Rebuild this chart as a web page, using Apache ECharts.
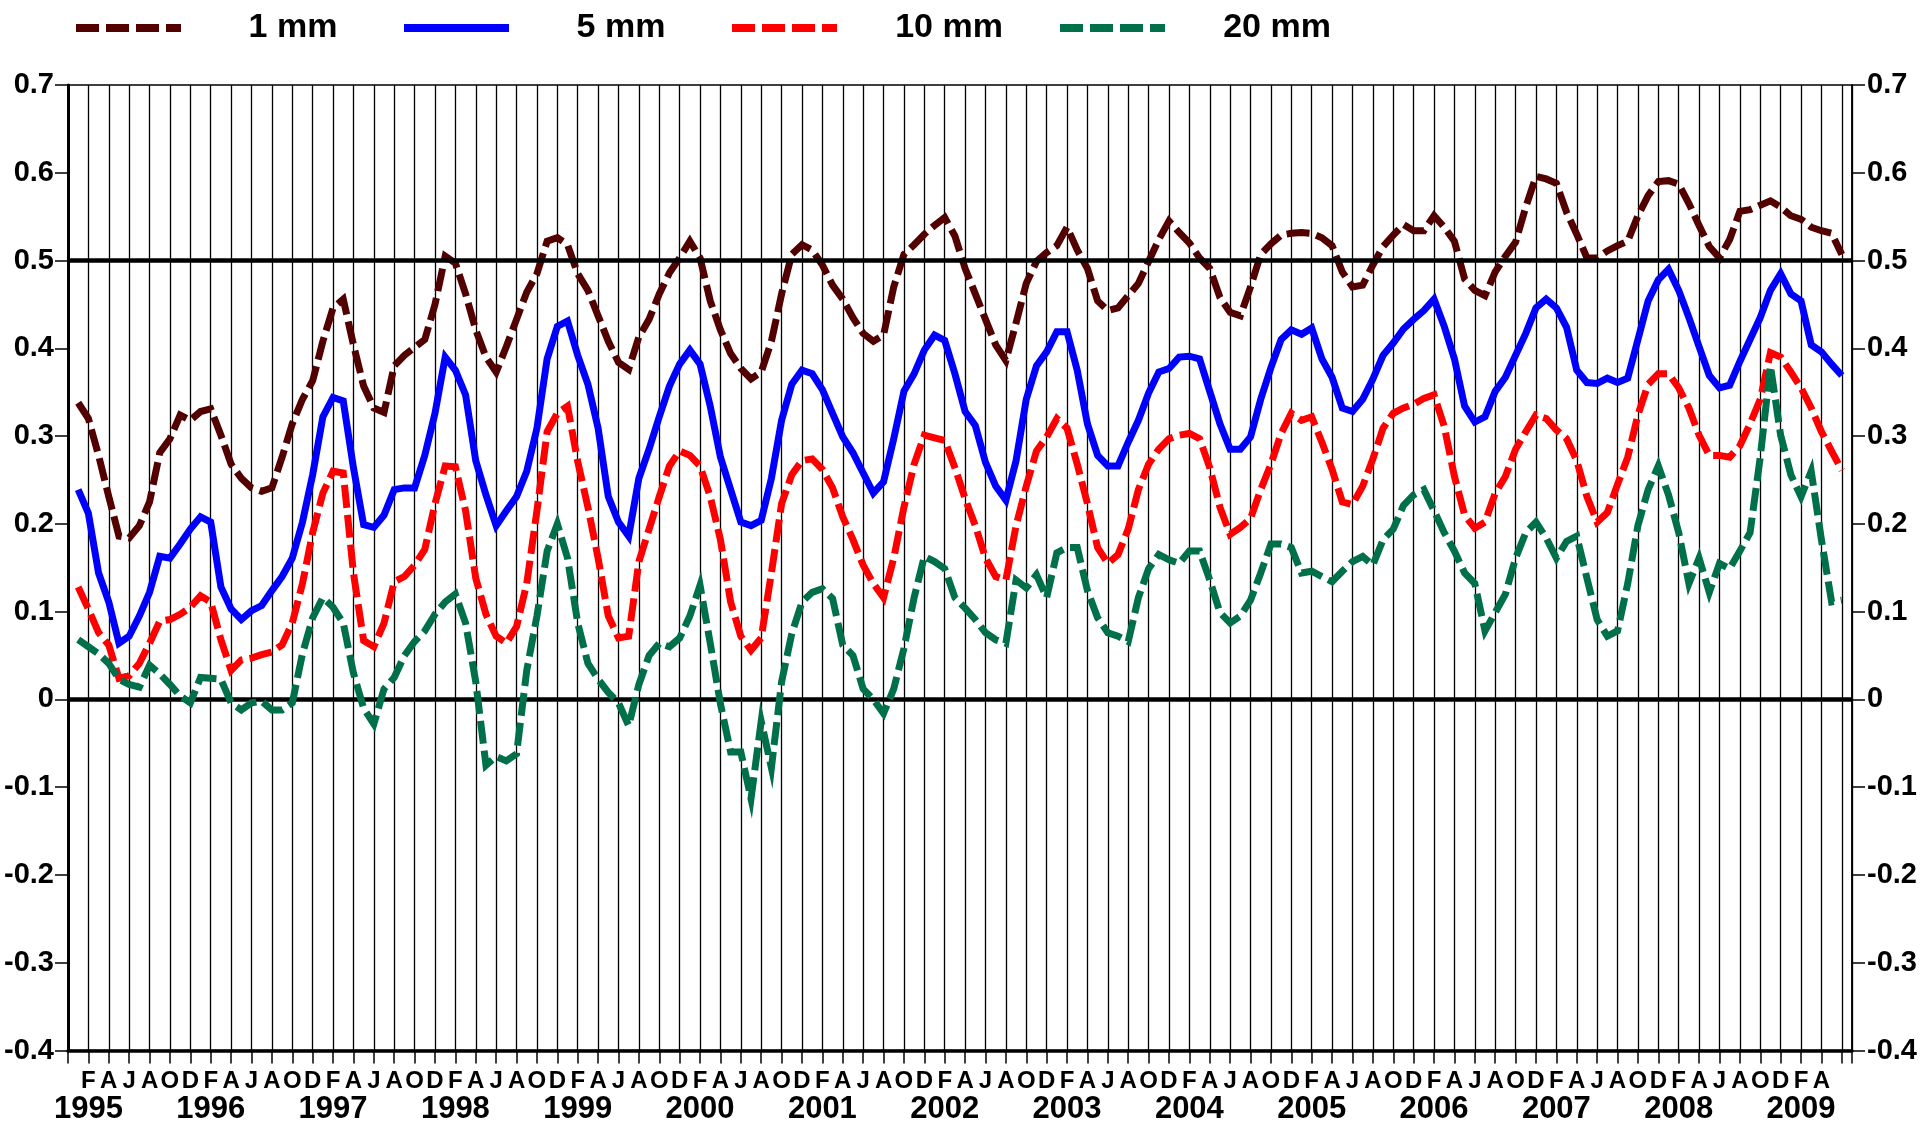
<!DOCTYPE html>
<html>
<head>
<meta charset="utf-8">
<style>
  html, body { margin: 0; padding: 0; background: #ffffff; }
  #chart { width: 1921px; height: 1125px; }
</style>
<script src="https://cdn.jsdelivr.net/npm/echarts@6/dist/echarts.min.js"></script>
</head>
<body>
<div id="chart"></div>
<script>
// Monthly series, January 1995 through June 2009.
const FIRST_YEAR = 1995;
const monthLetters = ['J', 'F', 'M', 'A', 'M', 'J', 'J', 'A', 'S', 'O', 'N', 'D'];
const seriesNames = ['1 mm', '5 mm', '10 mm', '20 mm'];
const lastLabelledMonth = 172;   // April 2009 (x = months since December 1994)
const referenceLines = [0.5, 0];

const mm1 = [
  0.338, 0.320, 0.278, 0.231, 0.186, 0.184, 0.198, 0.225, 0.281, 0.297, 0.324, 0.318,
  0.328, 0.331, 0.301, 0.268, 0.252, 0.241, 0.237, 0.241, 0.276, 0.314, 0.342, 0.363,
  0.408, 0.446, 0.456, 0.404, 0.357, 0.332, 0.327, 0.380, 0.392, 0.401, 0.410, 0.450,
  0.505, 0.497, 0.462, 0.421, 0.390, 0.373, 0.402, 0.433, 0.464, 0.485, 0.522, 0.526,
  0.518, 0.485, 0.466, 0.437, 0.408, 0.384, 0.376, 0.413, 0.433, 0.462, 0.486, 0.503,
  0.522, 0.503, 0.454, 0.421, 0.394, 0.377, 0.365, 0.373, 0.408, 0.462, 0.507, 0.518,
  0.512, 0.495, 0.472, 0.456, 0.435, 0.417, 0.408, 0.415, 0.470, 0.507, 0.518, 0.530,
  0.540, 0.549, 0.528, 0.491, 0.462, 0.433, 0.404, 0.386, 0.429, 0.474, 0.499, 0.509,
  0.517, 0.538, 0.512, 0.491, 0.454, 0.443, 0.446, 0.460, 0.474, 0.499, 0.524, 0.545,
  0.532, 0.520, 0.503, 0.491, 0.458, 0.441, 0.437, 0.470, 0.507, 0.519, 0.529, 0.531,
  0.532, 0.531, 0.526, 0.517, 0.487, 0.470, 0.472, 0.495, 0.516, 0.529, 0.541, 0.534,
  0.534, 0.551, 0.538, 0.522, 0.479, 0.466, 0.460, 0.487, 0.505, 0.521, 0.561, 0.596,
  0.593, 0.588, 0.555, 0.530, 0.503, 0.503, 0.511, 0.517, 0.522, 0.551, 0.574, 0.590,
  0.591, 0.587, 0.565, 0.540, 0.516, 0.503, 0.524, 0.556, 0.558, 0.563, 0.568, 0.561,
  0.551, 0.547, 0.538, 0.534, 0.531, 0.507
];

const mm5 = [
  0.239, 0.212, 0.144, 0.111, 0.064, 0.072, 0.095, 0.122, 0.163, 0.161, 0.177, 0.194,
  0.208, 0.202, 0.128, 0.103, 0.091, 0.101, 0.107, 0.124, 0.140, 0.161, 0.202, 0.256,
  0.322, 0.344, 0.340, 0.264, 0.199, 0.196, 0.210, 0.239, 0.241, 0.241, 0.278, 0.326,
  0.390, 0.375, 0.347, 0.272, 0.233, 0.198, 0.215, 0.231, 0.260, 0.309, 0.388, 0.425,
  0.431, 0.392, 0.359, 0.309, 0.231, 0.202, 0.186, 0.252, 0.285, 0.322, 0.357, 0.382,
  0.398, 0.382, 0.334, 0.276, 0.239, 0.202, 0.198, 0.204, 0.252, 0.318, 0.359, 0.375,
  0.371, 0.353, 0.326, 0.299, 0.281, 0.258, 0.235, 0.248, 0.297, 0.351, 0.371, 0.398,
  0.415, 0.409, 0.371, 0.328, 0.312, 0.270, 0.243, 0.227, 0.272, 0.342, 0.380, 0.396,
  0.419, 0.419, 0.375, 0.314, 0.278, 0.266, 0.266, 0.293, 0.318, 0.349, 0.373, 0.377,
  0.390, 0.391, 0.388, 0.351, 0.314, 0.285, 0.285, 0.299, 0.342, 0.378, 0.410, 0.421,
  0.416, 0.423, 0.388, 0.367, 0.332, 0.328, 0.342, 0.365, 0.392, 0.406, 0.422, 0.433,
  0.443, 0.456, 0.425, 0.388, 0.334, 0.316, 0.322, 0.351, 0.367, 0.392, 0.417, 0.446,
  0.456, 0.446, 0.424, 0.375, 0.361, 0.360, 0.366, 0.361, 0.366, 0.410, 0.454, 0.478,
  0.490, 0.466, 0.435, 0.402, 0.369, 0.355, 0.358, 0.385, 0.410, 0.435, 0.466, 0.485,
  0.462, 0.454, 0.404, 0.396, 0.382, 0.369
];

const mm10 = [
  0.128, 0.103, 0.076, 0.062, 0.024, 0.027, 0.041, 0.064, 0.089, 0.091, 0.097, 0.105,
  0.118, 0.111, 0.068, 0.033, 0.045, 0.047, 0.051, 0.054, 0.062, 0.087, 0.132, 0.190,
  0.235, 0.260, 0.258, 0.144, 0.067, 0.060, 0.087, 0.134, 0.140, 0.153, 0.171, 0.223,
  0.266, 0.265, 0.215, 0.138, 0.097, 0.072, 0.064, 0.083, 0.132, 0.215, 0.305, 0.326,
  0.334, 0.271, 0.219, 0.161, 0.095, 0.070, 0.072, 0.157, 0.194, 0.231, 0.266, 0.283,
  0.278, 0.266, 0.231, 0.182, 0.111, 0.072, 0.056, 0.070, 0.144, 0.223, 0.256, 0.272,
  0.274, 0.262, 0.241, 0.208, 0.182, 0.153, 0.132, 0.116, 0.161, 0.219, 0.268, 0.301,
  0.298, 0.295, 0.264, 0.229, 0.198, 0.161, 0.140, 0.136, 0.198, 0.243, 0.283, 0.299,
  0.320, 0.309, 0.268, 0.223, 0.173, 0.155, 0.165, 0.194, 0.239, 0.268, 0.285, 0.297,
  0.301, 0.303, 0.297, 0.264, 0.219, 0.188, 0.196, 0.206, 0.239, 0.268, 0.303, 0.326,
  0.318, 0.322, 0.293, 0.262, 0.225, 0.222, 0.243, 0.274, 0.309, 0.326, 0.332, 0.336,
  0.343, 0.347, 0.311, 0.254, 0.210, 0.195, 0.202, 0.235, 0.254, 0.285, 0.305, 0.324,
  0.320, 0.307, 0.297, 0.272, 0.231, 0.202, 0.213, 0.245, 0.276, 0.324, 0.359, 0.371,
  0.371, 0.355, 0.332, 0.301, 0.278, 0.278, 0.276, 0.289, 0.314, 0.342, 0.395, 0.390,
  0.373, 0.355, 0.332, 0.305, 0.283, 0.261
];

const mm20 = [
  0.068, 0.060, 0.052, 0.041, 0.023, 0.017, 0.014, 0.039, 0.029, 0.017, 0.004, -0.004,
  0.025, 0.024, 0.023, -0.004, -0.012, -0.004, -0.002, -0.012, -0.012, -0.004, 0.052, 0.093,
  0.116, 0.105, 0.087, 0.030, -0.010, -0.028, 0.012, 0.025, 0.050, 0.066, 0.078, 0.097,
  0.111, 0.120, 0.087, 0.020, -0.075, -0.065, -0.070, -0.062, 0.033, 0.095, 0.169, 0.200,
  0.161, 0.087, 0.041, 0.023, 0.008, -0.004, -0.030, 0.017, 0.050, 0.064, 0.060, 0.070,
  0.095, 0.130, 0.064, -0.005, -0.060, -0.060, -0.113, -0.025, -0.078, 0.020, 0.075, 0.111,
  0.122, 0.126, 0.115, 0.062, 0.050, 0.012, 0.000, -0.016, 0.012, 0.058, 0.116, 0.163,
  0.157, 0.149, 0.116, 0.104, 0.091, 0.076, 0.068, 0.064, 0.136, 0.127, 0.142, 0.116,
  0.167, 0.173, 0.173, 0.124, 0.093, 0.076, 0.072, 0.066, 0.116, 0.149, 0.165, 0.159,
  0.155, 0.169, 0.169, 0.136, 0.099, 0.087, 0.095, 0.113, 0.144, 0.177, 0.177, 0.173,
  0.144, 0.146, 0.140, 0.134, 0.146, 0.157, 0.163, 0.153, 0.182, 0.194, 0.221, 0.233,
  0.239, 0.215, 0.190, 0.169, 0.144, 0.132, 0.078, 0.099, 0.120, 0.161, 0.190, 0.202,
  0.184, 0.161, 0.180, 0.186, 0.138, 0.091, 0.072, 0.078, 0.132, 0.198, 0.239, 0.266,
  0.233, 0.190, 0.132, 0.161, 0.122, 0.155, 0.149, 0.169, 0.190, 0.276, 0.380, 0.301,
  0.256, 0.231, 0.260, 0.182, 0.111, 0.113
];

const seriesValues = [mm1, mm5, mm10, mm20];
const seriesColors = ['#520000', '#0000ff', '#ff0000', '#00704a'];
const seriesDash = [[23, 7], 'solid', [23, 7], [23, 7]];

const FONT = '"Liberation Sans", Arial, sans-serif';
const LINE_WIDTH = 7;

// x = months since December 1994, so January 1995 sits at x = 1
function toPoints(values) {
  return values.map((v, i) => [i + 1, v]);
}

function monthLabel(value) {
  if (value < 1 || value > lastLabelledMonth) return '';
  const idx = value - 1;
  const mon = ((idx % 12) + 12) % 12;
  const letter = monthLetters[mon];
  if (mon === 1) {
    return '{m|' + letter + '}\n{y|' + (FIRST_YEAR + Math.floor(idx / 12)) + '}';
  }
  return '{m|' + letter + '}';
}

const yAxisBase = {
  type: 'value',
  min: -0.4,
  max: 0.7,
  interval: 0.1,
  axisLine: { show: true, lineStyle: { color: '#000', width: 3 } },
  axisTick: { show: true, inside: false, length: 13, lineStyle: { color: '#000', width: 1.5 } },
  axisLabel: {
    color: '#000', fontFamily: FONT, fontWeight: 'bold', fontSize: 29, margin: 14
  },
  splitLine: { show: false }
};

const series = seriesNames.map((name, k) => ({
  name: name,
  type: 'line',
  data: toPoints(seriesValues[k]),
  symbol: 'none',
  showSymbol: false,
  smooth: false,
  z: 3 + k,
  lineStyle: { color: seriesColors[k], width: LINE_WIDTH, type: seriesDash[k], cap: 'butt', join: 'miter' },
  itemStyle: { color: seriesColors[k] }
}));

// heavy horizontal reference lines
series.unshift({
  name: 'ref',
  type: 'line',
  data: [],
  z: 2,
  silent: true,
  markLine: {
    silent: true,
    symbol: ['none', 'none'],
    label: { show: false },
    lineStyle: { color: '#000', width: 4.5, type: 'solid' },
    data: referenceLines.map(v => ({ yAxis: v }))
  }
});

const chart = echarts.init(document.getElementById('chart'), null, { renderer: 'canvas' });

chart.setOption({
  animation: false,
  backgroundColor: '#ffffff',
  grid: {
    left: 68, right: 69, top: 85, bottom: 69,
    show: true, borderColor: '#000', borderWidth: 1.5, backgroundColor: 'transparent'
  },
  legend: {
    data: seriesNames,
    left: 67,
    top: 6,
    itemWidth: 105,
    itemHeight: 20,
    itemGap: 0,
    selectedMode: false,
    itemStyle: { opacity: 0 },
    lineStyle: { width: 8 },
    formatter: name => '{t|' + name + '}',
    textStyle: {
      rich: {
        t: {
          width: 214, align: 'center', color: '#000',
          fontFamily: FONT, fontWeight: 'bold', fontSize: 34, lineHeight: 38
        }
      }
    }
  },
  xAxis: {
    type: 'value',
    min: 0,
    max: 175,
    interval: 2,
    axisLine: { show: true, onZero: false, lineStyle: { color: '#000', width: 3.5 } },
    axisTick: { show: true, inside: false, length: 13, lineStyle: { color: '#000', width: 1.5 } },
    splitLine: { show: true, lineStyle: { color: '#000', width: 1.3 } },
    axisLabel: {
      margin: 19,
      formatter: monthLabel,
      rich: {
        m: { fontFamily: FONT, fontWeight: 'bold', fontSize: 24, lineHeight: 23, color: '#000' },
        y: { fontFamily: FONT, fontWeight: 'bold', fontSize: 31, lineHeight: 34, color: '#000' }
      }
    }
  },
  yAxis: [
    Object.assign({}, yAxisBase, { position: 'left' }),
    Object.assign({}, yAxisBase, {
      position: 'right',
      axisLine: { show: true, lineStyle: { color: '#000', width: 1.5 } },
      axisLabel: Object.assign({}, yAxisBase.axisLabel, { margin: 15 })
    })
  ],
  series: series
});
</script>
</body>
</html>
